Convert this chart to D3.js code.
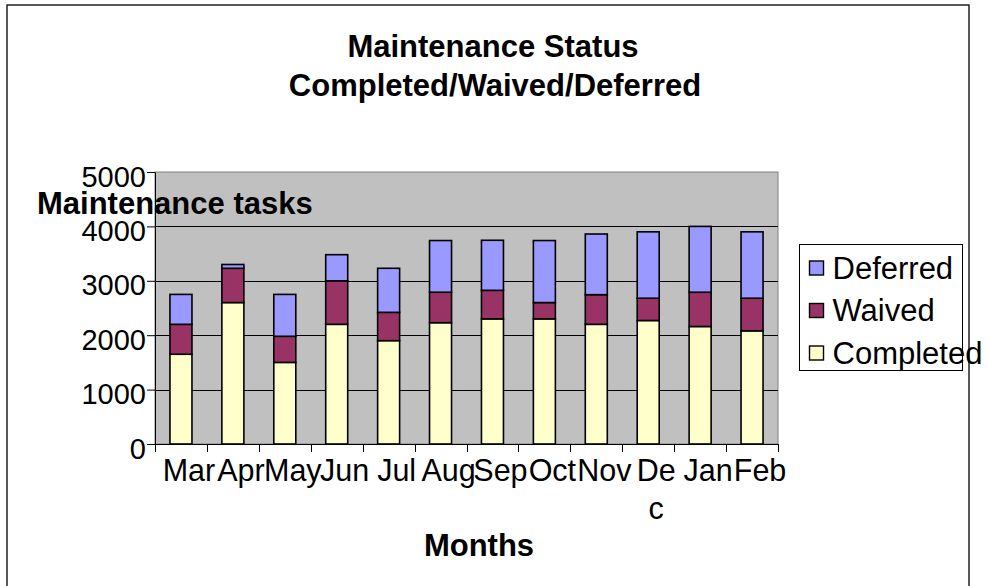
<!DOCTYPE html>
<html>
<head>
<meta charset="utf-8">
<script src="https://cdn.jsdelivr.net/npm/d3@7"></script>
<style>
  body { margin: 0; background: #fff; }
  svg { display: block; font-family: "Liberation Sans", Arial, sans-serif; }
</style>
</head>
<body>
<svg id="chart" width="988" height="586"></svg>
<script>
// chart data
const months = ["Mar", "Apr", "May", "Jun", "Jul", "Aug", "Sep", "Oct", "Nov", "Dec", "Jan", "Feb"];
const monthLabels = ["Mar", "Apr", "May", "Jun", "Jul", "Aug", "Sep", "Oct", "Nov", "De\nc", "Jan", "Feb"];
const completed = [1650, 2600, 1500, 2200, 1900, 2230, 2300, 2300, 2200, 2270, 2160, 2080];
const waived = [550, 630, 480, 800, 520, 560, 525, 300, 545, 410, 630, 600];
const deferred = [550, 70, 770, 480, 810, 950, 920, 1140, 1115, 1220, 1210, 1220];
const seriesNames = ["Completed", "Waived", "Deferred"];
const yTicks = [0, 1000, 2000, 3000, 4000, 5000];

const colors = {Completed: "#FFFFCC", Waived: "#993366", Deferred: "#9999FF"};

const svg = d3.select("#chart");
const plot = {left: 155, right: 778, top: 172, bottom: 444};

//outer chart frame
svg.append("rect")
    .attr("x", 7).attr("y", 5)
    .attr("width", 962).attr("height", 620)
    .attr("fill", "none")
    .attr("stroke", "#222")
    .attr("stroke-width", 1.5);

const x = d3.scaleBand().domain(months).range([plot.left, plot.right]);
const y = d3.scaleLinear().domain([0, 5000]).range([plot.bottom, plot.top]);

//plot background
svg.append("rect")
    .attr("x", plot.left).attr("y", plot.top)
    .attr("width", plot.right - plot.left).attr("height", plot.bottom - plot.top)
    .attr("fill", "#C0C0C0")
    .attr("stroke", "#808080")
    .attr("stroke-width", 1);

//gridlines
svg.append("g").selectAll("line")
    .data(yTicks.filter(d => d > 0 && d < 5000))
    .join("line")
    .attr("x1", plot.left).attr("x2", plot.right)
    .attr("y1", d => Math.round(y(d)) + 0.5).attr("y2", d => Math.round(y(d)) + 0.5)
    .attr("stroke", "#000")
    .attr("stroke-width", 1);

//stacked bars
const rows = months.map((m, i) => ({month: m, Completed: completed[i], Waived: waived[i], Deferred: deferred[i]}));
const stacked = d3.stack().keys(seriesNames)(rows);
const barWidth = 22;

svg.append("g").selectAll("g")
    .data(stacked)
    .join("g")
    .attr("fill", d => colors[d.key])
    .selectAll("rect")
    .data(d => d)
    .join("rect")
    .attr("x", d => x(d.data.month) + x.bandwidth() / 2 - barWidth / 2)
    .attr("y", d => y(d[1]))
    .attr("width", barWidth)
    .attr("height", d => y(d[0]) - y(d[1]))
    .attr("stroke", "#000")
    .attr("stroke-width", 1.6);

//y axis
const yAxis = svg.append("g")
    .attr("transform", `translate(${plot.left},0)`)
    .call(d3.axisLeft(y).tickValues(yTicks).tickFormat(d3.format("d"))
        .tickSize(8).tickSizeOuter(0).tickPadding(1));
yAxis.select(".domain").attr("stroke", "#000");
yAxis.selectAll(".tick line").attr("stroke", "#000");
yAxis.selectAll(".tick text")
    .attr("font-size", 29)
    .attr("font-family", "Liberation Sans, Arial, sans-serif")
    .attr("fill", "#000")
    .attr("dy", "14px");

//x axis line and ticks on band edges
const xAxis = svg.append("g")
    .attr("transform", `translate(0,${plot.bottom})`)
    .call(d3.axisBottom(x).tickSize(0).tickSizeOuter(0).tickFormat(""));
xAxis.select(".domain").attr("stroke", "#000");

const edges = months.map(m => x(m)).concat([plot.right]);
svg.append("g").selectAll("line")
    .data(edges)
    .join("line")
    .attr("x1", d => Math.round(d) + 0.5).attr("x2", d => Math.round(d) + 0.5)
    .attr("y1", plot.bottom).attr("y2", plot.bottom + 8)
    .attr("stroke", "#000");

//month labels (Dec wraps onto two lines)
const monthText = svg.append("g").selectAll("text")
    .data(months)
    .join("text")
    .attr("x", d => x(d) + x.bandwidth() / 2 + 8)
    .attr("y", 481)
    .attr("text-anchor", "middle")
    .attr("font-size", 30.5)
    .attr("fill", "#000");
monthText.each(function(d, i) {
    d3.select(this).selectAll("tspan")
        .data(monthLabels[i].split("\n"))
        .join("tspan")
        .attr("x", x(d) + x.bandwidth() / 2 + 8)
        .attr("dy", (t, j) => j === 0 ? 0 : 38)
        .text(t => t);
});

//titles
const title = svg.append("text")
    .attr("text-anchor", "middle")
    .attr("font-size", 31)
    .attr("font-weight", "bold")
    .attr("fill", "#000");
title.append("tspan").attr("x", 493).attr("y", 57).text("Maintenance Status");
title.append("tspan").attr("x", 495).attr("y", 96).text("Completed/Waived/Deferred");

svg.append("text")
    .attr("x", 37).attr("y", 214)
    .attr("font-size", 31)
    .attr("font-weight", "bold")
    .attr("fill", "#000")
    .text("Maintenance tasks");

svg.append("text")
    .attr("x", 479).attr("y", 556)
    .attr("text-anchor", "middle")
    .attr("font-size", 31)
    .attr("font-weight", "bold")
    .attr("fill", "#000")
    .text("Months");

//legend
const legend = svg.append("g").attr("transform", "translate(799,244)");
legend.append("rect")
    .attr("x", 0.5).attr("y", 0.5)
    .attr("width", 163).attr("height", 126)
    .attr("fill", "#fff")
    .attr("stroke", "#000")
    .attr("stroke-width", 1);

const legendItems = legend.selectAll(".item")
    .data(seriesNames.slice().reverse())
    .join("g")
    .attr("class", "item")
    .attr("transform", (d, i) => `translate(0,${i * 42.5})`);
legendItems.append("rect")
    .attr("x", 10.5).attr("y", 17)
    .attr("width", 14).attr("height", 14)
    .attr("fill", d => colors[d])
    .attr("stroke", "#000")
    .attr("stroke-width", 1.4);
legendItems.append("text")
    .attr("x", 33.5).attr("y", 34.5)
    .attr("font-size", 31)
    .attr("fill", "#000")
    .text(d => d);
</script>
</body>
</html>
